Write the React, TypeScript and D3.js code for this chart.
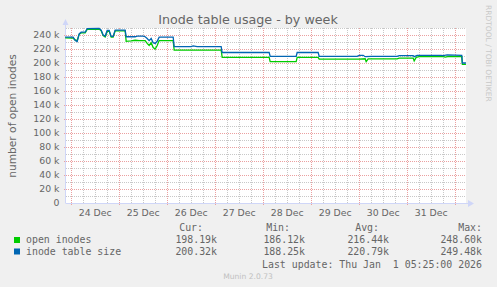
import React from "react";
import * as d3 from "d3";

const W = 497;
const H = 287;

const startTime = new Date(Date.UTC(2025, 11, 23, 21, 25));
const endTime = new Date(Date.UTC(2026, 0, 1, 5, 25));
const baseMidnight = Date.UTC(2025, 11, 24, 0, 0);

const dayLabels = ["24 Dec", "25 Dec", "26 Dec", "27 Dec", "28 Dec", "29 Dec", "30 Dec", "31 Dec"];
const yTicks = [0, 20, 40, 60, 80, 100, 120, 140, 160, 180, 200, 220, 240];
const yTickLabels = ["0", "20 k", "40 k", "60 k", "80 k", "100 k", "120 k", "140 k", "160 k", "180 k", "200 k", "220 k", "240 k"];

// hours since 24 Dec 00:00, values in thousands
const openHours = [-3, 1, 2, 3, 4, 5, 7, 8, 14, 15, 16, 17, 18, 19, 20, 21, 22, 27, 27.5, 30, 32, 34, 37, 38, 39, 40, 41, 42, 43, 44, 51, 51.5, 75, 75.5, 99, 99.5, 112.5, 113, 123.5, 124, 144, 147, 147.5, 148.5, 163, 164, 171, 171.5, 172.5, 174, 186, 187, 189, 195.3, 195.6, 197.4];
const openValues = [236, 235.5, 233, 232, 241, 243, 243, 248, 248.5, 246, 239, 237, 245, 245.5, 237, 237, 246, 246, 231, 231.5, 232.5, 232, 232, 228, 225, 229, 222, 220, 225, 232, 232, 218.5, 218.5, 208, 208, 202, 202, 208, 208, 205.5, 205.5, 206, 202, 206, 206, 207, 207, 203, 208, 209, 209, 208.5, 209.5, 209, 198, 198];

const tableHours = [-3, 1, 2, 3, 4, 5, 7, 8, 14, 15, 16, 17, 18, 19, 20, 21, 22, 27, 27.5, 32, 33, 36, 37, 38, 39, 40, 41, 42, 43, 44, 51, 51.5, 60, 61, 63, 75, 75.5, 99, 99.5, 112.5, 113, 123.5, 124, 143, 144, 146, 147, 150, 163, 164, 171, 171.5, 173, 185, 186, 188, 195.3, 195.6, 197.4];
const tableValues = [237, 237, 232, 230.5, 241.5, 244, 244, 249, 249.5, 247, 240, 238.5, 246.5, 246.5, 238, 238, 247, 247, 237.5, 237.5, 238.5, 238.5, 237.5, 235, 232, 235, 229, 228, 231, 237, 237, 223.5, 223.5, 224.5, 223.5, 223.5, 215, 215, 209.5, 209.5, 215, 215, 209.5, 209.5, 211, 211, 209, 209.5, 209.5, 210.5, 210.5, 209, 211, 211, 210.5, 211.5, 211, 200, 200];

const legendNames = ["open inodes", "inode table size"];
const legendColors = ["#00cc00", "#0066b3"];
const curValues = ["198.19k", "200.32k"];
const minValues = ["186.12k", "188.25k"];
const avgValues = ["216.44k", "220.79k"];
const maxValues = ["248.60k", "249.48k"];

const PL = 66, PR = 466, PT = 28, PB = 203;

export default function App() {
  const x = d3.scaleUtc().domain([startTime, endTime]).range([PL, PR]);
  const y = d3.scaleLinear().domain([0, 250]).range([PB, PT]);
  const toDate = (h: number) => new Date(baseMidnight + h * 3600000);

  const line = d3
    .line<[number, number]>()
    .x((d) => x(toDate(d[0])))
    .y((d) => y(d[1]));

  const openPts: [number, number][] = openHours.map((h, i) => [h, openValues[i]]);
  const tablePts: [number, number][] = tableHours.map((h, i) => [h, tableValues[i]]);

  // grid
  const sixHours = d3.utcHour.every(6)!.range(startTime, endTime);
  const minorV = sixHours.filter((d) => d.getUTCHours() !== 0);
  const majorV = sixHours.filter((d) => d.getUTCHours() === 0);
  const minorH = d3.range(10, 251, 20);
  const majorH = yTicks.filter((v) => v > 0);

  const font = "DejaVu Sans, sans-serif";
  const mono = "DejaVu Sans Mono, monospace";
  const fc = "#666666";

  const colX = { cur: 217, min: 305, avg: 389, max: 482 };
  const rowY = [243, 254.5];

  return (
    <svg width={W} height={H} style={{ position: "fixed", left: 0, top: 0, display: "block" }}>
      <rect x={0} y={0} width={W} height={H} fill="#f0f0f0" />
      <rect x={PL} y={PT} width={PR - PL} height={PB - PT} fill="#ffffff" />

      {minorH.map((v) => (
        <line key={"mh" + v} x1={PL} x2={PR} y1={Math.round(y(v)) + 0.5} y2={Math.round(y(v)) + 0.5} stroke="#c8c8c8" strokeDasharray="1,1" />
      ))}
      {minorV.map((d) => (
        <line key={"mv" + +d} x1={Math.round(x(d)) + 0.5} x2={Math.round(x(d)) + 0.5} y1={PT} y2={PB} stroke="#c8c8c8" strokeDasharray="1,1" />
      ))}
      {majorH.map((v) => (
        <line key={"Mh" + v} x1={PL - 2} x2={PR} y1={Math.round(y(v)) + 0.5} y2={Math.round(y(v)) + 0.5} stroke="#eba0a0" strokeDasharray="1,1" />
      ))}
      {majorV.map((d) => (
        <line key={"Mv" + +d} x1={Math.round(x(d)) + 0.5} x2={Math.round(x(d)) + 0.5} y1={PT} y2={PB + 2} stroke="#eba0a0" strokeDasharray="1,1" />
      ))}

      {/* axes */}
      <line x1={PL - 0.5} x2={PL - 0.5} y1={PB + 0.5} y2={22} stroke="#cfd6f8" />
      <line x1={PL} x2={469} y1={PB + 0.5} y2={PB + 0.5} stroke="#cfd6f8" />
      <path d={`M${PL - 3.5},25 L${PL - 0.5},19 L${PL + 2.5},25 Z`} fill="#cfd6f8" />
      <path d={`M468,200 L474,${PB + 0.5} L468,207 Z`} fill="#cfd6f8" />

      {/* data lines */}
      <path d={line(openPts) || ""} fill="none" stroke="#00cc00" strokeWidth={1.3} />
      <path d={line(tablePts) || ""} fill="none" stroke="#0066b3" strokeWidth={1.3} />

      {/* y tick labels */}
      {yTicks.map((v, i) => (
        <text key={"yt" + v} x={59.5} y={y(v) + 3.4} textAnchor="end" fontFamily={font} fontSize={9.33} fill={fc}>
          {yTickLabels[i]}
        </text>
      ))}
      {/* x tick labels */}
      {dayLabels.map((lab, i) => (
        <text key={lab} x={x(new Date(baseMidnight + (i * 24 + 12) * 3600000))} y={216} textAnchor="middle" fontFamily={font} fontSize={9.33} fill={fc}>
          {lab}
        </text>
      ))}

      {/* title */}
      <text x={248} y={23.5} textAnchor="middle" fontFamily={font} fontSize={12.7} fill={fc}>
        Inode table usage - by week
      </text>
      {/* y label */}
      <text transform="translate(15.5,116) rotate(-90)" textAnchor="middle" fontFamily={font} fontSize={10.67} fill={fc}>
        number of open inodes
      </text>
      {/* watermark */}
      <text transform="translate(485.5,5) rotate(90)" textAnchor="start" fontFamily={font} fontSize={7.5} fill="#c8c8c8">
        RRDTOOL / TOBI OETIKER
      </text>

      {/* legend */}
      <g fontFamily={mono} fontSize={9.9} fill={fc}>
        <text x={203} y={231} textAnchor="end">Cur:</text>
        <text x={290} y={231} textAnchor="end">Min:</text>
        <text x={379} y={231} textAnchor="end">Avg:</text>
        <text x={482} y={231} textAnchor="end">Max:</text>
        {legendNames.map((n, i) => (
          <g key={n}>
            <rect x={14} y={rowY[i] - 6} width={6} height={6} fill={legendColors[i]} />
            <text x={26} y={rowY[i]}>{n}</text>
            <text x={colX.cur} y={rowY[i]} textAnchor="end">{curValues[i]}</text>
            <text x={colX.min} y={rowY[i]} textAnchor="end">{minValues[i]}</text>
            <text x={colX.avg} y={rowY[i]} textAnchor="end">{avgValues[i]}</text>
            <text x={colX.max} y={rowY[i]} textAnchor="end">{maxValues[i]}</text>
          </g>
        ))}
        <text x={482} y={267.5} textAnchor="end" style={{ whiteSpace: "pre" }}>
          {"Last update: Thu Jan  1 05:25:00 2026"}
        </text>
      </g>
      <text x={248} y={279} textAnchor="middle" fontFamily={font} fontSize={7.6} fill="#c0c0c0">
        Munin 2.0.73
      </text>
    </svg>
  );
}
